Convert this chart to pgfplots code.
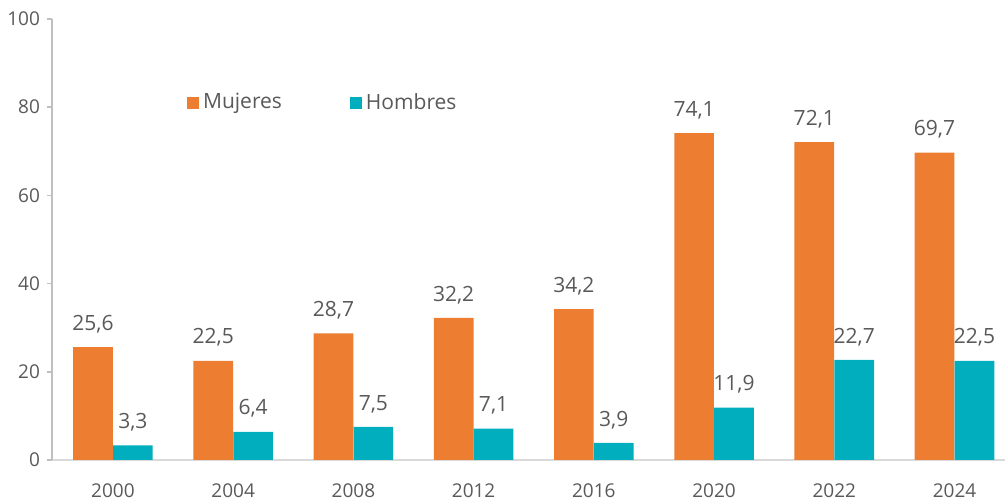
\documentclass[border=0pt]{standalone}
\usepackage{pgfplots}
\pgfplotsset{compat=1.18}
\usepackage{fontspec}
\setmainfont{Open Sans}
\definecolor{cMuj}{HTML}{ED7D31}
\definecolor{cHom}{HTML}{00AEBD}
\definecolor{txt}{HTML}{595959}

\begin{document}
\begin{tikzpicture}
\begin{axis}[
    scale only axis,
    width=476.5pt, height=220.5pt,
    ybar, bar width=0.33,
    xmin=-0.507, xmax=7.42,
    ymin=0, ymax=100,
    xtick=data,
    xticklabels={2000,2004,2008,2012,2016,2020,2022,2024},
    ytick={0,20,...,100},
    axis x line*=bottom, axis y line*=left,
    x axis line style={draw=black!15, line width=0.8pt, -},
    y axis line style={draw=black!25, line width=0.8pt, -},
    xtick style={draw=none},
    ytick style={draw=black!25, line width=0.8pt},
    tick align=outside, major tick length=2.5pt,
    tick label style={font=\fontsize{9.5}{11}\selectfont, text=txt},
    xticklabel style={yshift=-6pt},
    /pgf/number format/assume math mode=true,
    nodes near coords={\pgfmathprintnumber[fixed,fixed zerofill,precision=1,use comma,assume math mode=true]{\pgfplotspointmeta}},
    every node near coord/.append style={font=\fontsize{10.5}{12}\selectfont, text=txt, yshift=3.5pt},
    legend style={at={(0.135,0.81)}, anchor=west, draw=none, fill=none,
        legend columns=2, font=\fontsize{10.5}{12}\selectfont, text=txt,
        /tikz/every even column/.append style={column sep=32pt}},
    legend image code/.code={\fill[#1] (0pt,-3pt) rectangle (6pt,3pt);},
]
\addplot[draw=none, fill=cMuj, bar shift=-0.166] coordinates {
    (0,25.6) (1,22.5) (2,28.7) (3,32.2) (4,34.2) (5,74.1) (6,72.1) (7,69.7)};
\addplot[draw=none, fill=cHom, bar shift=0.166] coordinates {
    (0,3.3) (1,6.4) (2,7.5) (3,7.1) (4,3.9) (5,11.9) (6,22.7) (7,22.5)};
\legend{Mujeres, Hombres}
\end{axis}
\pgfresetboundingbox
\path ([shift={(-26pt,-20.5pt)}]current axis.south west) rectangle ([shift={(1pt,9.5pt)}]current axis.north east);
\end{tikzpicture}
\end{document}
